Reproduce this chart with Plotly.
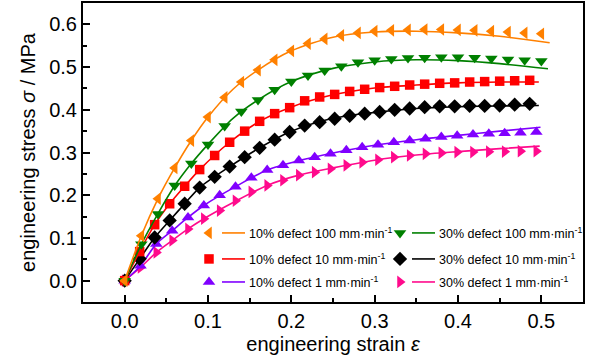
import plotly.graph_objects as go

# ---------------- data ----------------
# marker series
o_x = [round(i * 0.02, 3) for i in range(26)]
o_y = [0, 0.105, 0.192, 0.264, 0.328, 0.383, 0.429, 0.465, 0.493, 0.517, 0.538, 0.555, 0.566,
       0.574, 0.580, 0.584, 0.586, 0.587, 0.588, 0.588, 0.587, 0.586, 0.584, 0.582, 0.580, 0.578]
g_x = [round(i * 0.02, 3) for i in range(26)]
g_y = [0, 0.085, 0.156, 0.223, 0.274, 0.319, 0.362, 0.396, 0.423, 0.447, 0.466, 0.480, 0.492,
       0.502, 0.511, 0.516, 0.519, 0.521, 0.522, 0.523, 0.523, 0.522, 0.520, 0.518, 0.516, 0.514]
r_x = [round(i * 0.018, 3) for i in range(28)]
r_y = [0, 0.068, 0.131, 0.180, 0.221, 0.260, 0.293, 0.324, 0.350, 0.373, 0.391, 0.405, 0.421, 0.430,
       0.436, 0.443, 0.448, 0.452, 0.455, 0.458, 0.460, 0.462, 0.463, 0.465, 0.466, 0.467, 0.468, 0.469]
k_x = [round(i * 0.018, 3) for i in range(28)]
k_y = [0, 0.051, 0.101, 0.141, 0.180, 0.218, 0.243, 0.267, 0.289, 0.311, 0.330, 0.348, 0.363, 0.371,
       0.379, 0.386, 0.391, 0.395, 0.400, 0.403, 0.406, 0.408, 0.408, 0.409, 0.409, 0.410, 0.412, 0.414]
p_x = [round(i * 0.019, 3) for i in range(27)]
p_y = [0, 0.035, 0.086, 0.117, 0.148, 0.176, 0.200, 0.220, 0.241, 0.259, 0.270, 0.281, 0.289, 0.297,
       0.305, 0.312, 0.318, 0.324, 0.328, 0.332, 0.336, 0.339, 0.342, 0.344, 0.345, 0.346, 0.348]
m_x = [round(i * 0.019, 3) for i in range(27)]
m_y = [0, 0.031, 0.066, 0.094, 0.121, 0.145, 0.164, 0.187, 0.208, 0.223, 0.235, 0.247, 0.254, 0.262,
       0.270, 0.277, 0.283, 0.289, 0.293, 0.297, 0.299, 0.301, 0.301, 0.302, 0.302, 0.303, 0.303]

# fitted curves
of_x = [0, 0.02, 0.04, 0.06, 0.08, 0.10, 0.13, 0.16, 0.20, 0.25, 0.30, 0.35, 0.40, 0.45, 0.51]
of_y = [0, 0.105, 0.192, 0.264, 0.328, 0.383, 0.448, 0.493, 0.538, 0.570, 0.582, 0.584, 0.580, 0.572, 0.557]
gf_x = [0, 0.02, 0.04, 0.06, 0.08, 0.10, 0.13, 0.16, 0.20, 0.25, 0.30, 0.35, 0.40, 0.45, 0.508]
gf_y = [0, 0.085, 0.157, 0.222, 0.274, 0.319, 0.380, 0.423, 0.466, 0.497, 0.512, 0.517, 0.515, 0.508, 0.496]
rf_x = [0, 0.018, 0.036, 0.054, 0.072, 0.09, 0.126, 0.162, 0.198, 0.25, 0.30, 0.35, 0.40, 0.45, 0.497]
rf_y = [0, 0.068, 0.131, 0.180, 0.221, 0.260, 0.324, 0.373, 0.405, 0.435, 0.451, 0.458, 0.463, 0.465, 0.465]
kf_x = [0, 0.018, 0.036, 0.054, 0.072, 0.09, 0.126, 0.162, 0.198, 0.25, 0.30, 0.35, 0.40, 0.45, 0.497]
kf_y = [0, 0.051, 0.101, 0.141, 0.180, 0.218, 0.267, 0.311, 0.348, 0.380, 0.394, 0.403, 0.407, 0.409, 0.410]
pf_x = [0, 0.019, 0.038, 0.057, 0.076, 0.095, 0.133, 0.171, 0.209, 0.25, 0.30, 0.35, 0.40, 0.45, 0.499]
pf_y = [0, 0.035, 0.086, 0.117, 0.148, 0.176, 0.220, 0.259, 0.281, 0.299, 0.317, 0.330, 0.340, 0.350, 0.359]
mf_x = [0, 0.019, 0.038, 0.057, 0.076, 0.095, 0.133, 0.171, 0.209, 0.25, 0.30, 0.35, 0.40, 0.45, 0.498]
mf_y = [0, 0.031, 0.066, 0.094, 0.121, 0.145, 0.186, 0.223, 0.247, 0.264, 0.282, 0.294, 0.302, 0.309, 0.315]

labels = ["10% defect 100 mm·min<sup>-1</sup>", "30% defect 100 mm·min<sup>-1</sup>",
          "10% defect 10 mm·min<sup>-1</sup>", "30% defect 10 mm·min<sup>-1</sup>",
          "10% defect 1 mm·min<sup>-1</sup>", "30% defect 1 mm·min<sup>-1</sup>"]
colors = ["#FF8000", "#008000", "#FF0000", "#000000", "#8000FF", "#FF0A8C"]
symbols = ["triangle-left", "triangle-down", "square", "diamond", "triangle-up", "triangle-right"]
sizes = [11, 11, 9.5, 11, 11, 11]

x_ticks = [0.0, 0.1, 0.2, 0.3, 0.4, 0.5]
y_ticks = [0.0, 0.1, 0.2, 0.3, 0.4, 0.5, 0.6]

marker_sets = [(o_x, o_y), (g_x, g_y), (r_x, r_y), (k_x, k_y), (p_x, p_y), (m_x, m_y)]
fit_sets = [(of_x, of_y), (gf_x, gf_y), (rf_x, rf_y), (kf_x, kf_y), (pf_x, pf_y), (mf_x, mf_y)]

FONT = "Liberation Sans, Arial, sans-serif"

fig = go.Figure()

# draw order: lower series first
for i in [5, 4, 3, 2, 1, 0]:
    fx, fy = fit_sets[i]
    fig.add_trace(go.Scatter(x=fx, y=fy, mode="lines",
                             line=dict(color=colors[i], width=1.6, shape="spline", smoothing=0.8),
                             showlegend=False, hoverinfo="skip"))
    mx, my = marker_sets[i]
    fig.add_trace(go.Scatter(x=mx, y=my, mode="markers",
                             marker=dict(symbol=symbols[i], size=sizes[i], color=colors[i],
                                         line=dict(width=0)),
                             showlegend=False, name=labels[i]))

# custom legend in an overlay coordinate space (0..1 over the plot area)
leg_cols = [(0.252, 0.278, 0.324, 0.328), (0.634, 0.658, 0.704, 0.708)]
leg_rows = [0.231, 0.144, 0.067]
for i in range(6):
    row, col = i // 2, i % 2
    mxp, l0, l1, tx = leg_cols[col]
    yy = leg_rows[row]
    fig.add_trace(go.Scatter(x=[l0, l1], y=[yy, yy], mode="lines", xaxis="x2", yaxis="y2",
                             line=dict(color=colors[i], width=1.6), showlegend=False, hoverinfo="skip"))
    fig.add_trace(go.Scatter(x=[mxp], y=[yy], mode="markers", xaxis="x2", yaxis="y2",
                             marker=dict(symbol=symbols[i], size=sizes[i], color=colors[i], line=dict(width=0)),
                             showlegend=False, hoverinfo="skip"))
    fig.add_annotation(x=tx, y=yy, xref="x2", yref="y2", text=labels[i], showarrow=False,
                       xanchor="left", yanchor="middle",
                       font=dict(family=FONT, size=12.5, color="black"))

axis_common = dict(showline=True, linecolor="black", linewidth=2, mirror=True,
                   ticks="inside", ticklen=7, tickwidth=1.5, tickcolor="black",
                   showgrid=False, zeroline=False, automargin=False,
                   tickfont=dict(family=FONT, size=20, color="black"),
                   minor=dict(ticks="inside", ticklen=4, tickwidth=1.5, tickcolor="black"))

fig.update_layout(
    width=591, height=360,
    margin=dict(l=83, r=8, t=3, b=58),
    paper_bgcolor="white", plot_bgcolor="white",
    showlegend=False,
    xaxis=dict(range=[-0.05, 0.55], tickvals=x_ticks, ticktext=[f"{v:.1f}" for v in x_ticks],
               minor_tickvals=[v + 0.05 for v in [-0.1] + x_ticks],
               title=dict(text="engineering strain <i>ε</i>", font=dict(family=FONT, size=20, color="black"),
                          standoff=6),
               **axis_common),
    yaxis=dict(range=[-0.05, 0.65], tickvals=y_ticks, ticktext=[f"{v:.1f}" for v in y_ticks],
               minor_tickvals=[v + 0.05 for v in [-0.1] + y_ticks],
               title=dict(text="engineering stress <i>σ</i> / MPa", font=dict(family=FONT, size=20, color="black"),
                          standoff=8),
               **axis_common),
    xaxis2=dict(range=[0, 1], overlaying="x", visible=False, anchor="y2"),
    yaxis2=dict(range=[0, 1], overlaying="y", visible=False, anchor="x2"),
)

fig.write_html("out.html", config={"displayModeBar": False},
               post_script="document.body.style.margin='0';document.body.style.overflow='hidden';")
